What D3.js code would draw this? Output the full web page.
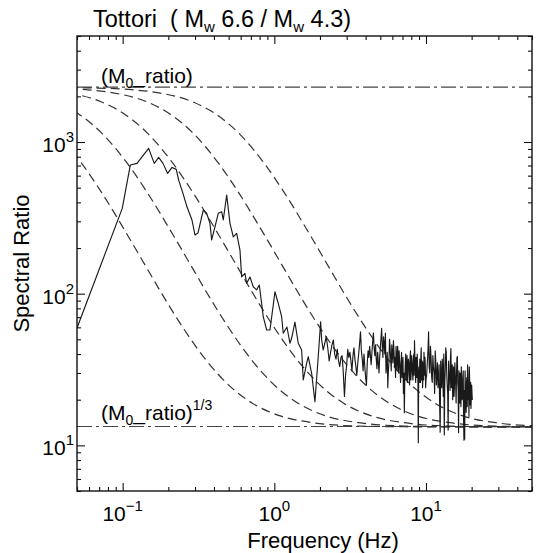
<!DOCTYPE html>
<html>
<head>
<meta charset="utf-8">
<script src="https://cdn.jsdelivr.net/npm/d3@7"></script>
<style>
body { margin: 0; background: #fff; }
svg { display: block; font-family: "Liberation Sans", Arial, Helvetica, sans-serif; }
</style>
</head>
<body>
<div id="chart"></div>
<script>
// reference levels
const moRatio = 2300;
const moRatioCube = 13.3;

const xDomain = [0.05, 50];
const yDomain = [5, 5000];
const xMajor = [0.1, 1, 10];
const xMajorExp = ["\u22121", "0", "1"];
const yMajor = [10, 100, 1000];
const yMajorExp = ["1", "2", "3"];

// model curves (Hz, spectral ratio)
const curveA = [[0.0288,2294],[0.0576,2277],[0.1152,2212],[0.1728,2111],[0.288,1843],[0.4032,1548],[0.576,1157],[0.864,717],[1.152,471],[1.728,242],[2.304,148],[2.88,101],[4.032,58.9],[5.76,35.8],[8.64,23.3],[11.52,18.9],[17.28,15.7],[28.8,14.1],[57.6,13.4]];
const curveB = [[0.0288,2277],[0.0576,2212],[0.0864,2111],[0.144,1843],[0.2016,1548],[0.288,1157],[0.432,717],[0.576,471],[0.864,242],[1.152,148],[1.44,101],[2.016,58.9],[2.88,35.8],[4.32,23.3],[5.76,18.9],[8.64,15.7],[14.4,14.1],[28.8,13.4],[57.6,13.26]];
const curveC = [[0.0288,2212],[0.0432,2111],[0.072,1843],[0.1008,1548],[0.144,1157],[0.216,717],[0.288,471],[0.432,242],[0.576,148],[0.72,101],[1.008,58.9],[1.44,35.8],[2.16,23.3],[2.88,18.9],[4.32,15.7],[7.2,14.1],[14.4,13.4],[28.8,13.26],[72,13.21]];
const curveD = [[0.0216,2111],[0.036,1843],[0.0504,1548],[0.072,1157],[0.108,717],[0.144,471],[0.216,242],[0.288,148],[0.36,101],[0.504,58.9],[0.72,35.8],[1.08,23.3],[1.44,18.9],[2.16,15.7],[3.6,14.1],[7.2,13.4],[14.4,13.26],[36,13.21],[72,13.2]];
const curveE = [[0.0252,1548],[0.036,1157],[0.054,717],[0.072,471],[0.108,242],[0.144,148],[0.18,101],[0.252,58.9],[0.36,35.8],[0.54,23.3],[0.72,18.9],[1.08,15.7],[1.8,14.1],[3.6,13.4],[7.2,13.26],[18,13.21],[54,13.2]];

// observed spectral ratio (Hz, ratio)
const observed = [
  [0.05,59.4],[0.0994,365],[0.1123,705],[0.1243,723],[0.1484,908],[0.1616,723],[0.1728,792],[0.1845,723],
  [0.198,621],[0.2114,680],[0.2257,660],[0.2341,561],[0.2498,459],[0.2655,374],[0.2864,306],[0.2998,244],
  [0.3137,251],[0.34,356],[0.358,339],[0.3764,291],[0.3862,226],[0.4061,276],[0.427,339],[0.4496,347],
  [0.4606,306],[0.4851,447],[0.5101,291],[0.5362,237],[0.5645,250],[0.5935,194],[0.609,129],[0.6403,136],
  [0.657,117],[0.6908,129],[0.7263,111],[0.7647,106],[0.7958,114],[0.8249,86.4],[0.8452,70.5],[0.8901,57.6],
  [0.9359,57.6],[0.9839,84.2],[1.0096,103],[1.0615,86.4],[1.1175,70.5],[1.1452,54.8],[1.2112,60.3],[1.2676,47.1],
  [1.3066,51.8],[1.3675,65],[1.438,47.1],[1.5141,42.5],[1.5513,27],[1.6334,34.7],[1.6735,38.4],[1.7621,29.8],
  [1.8527,19.4],[1.9478,38.4],[2.02,65.3],
  [2.05,50],[2.1,42.5],[2.15,47],[2.2,52],[2.25,44],[2.3,36],[2.35,41],[2.4,46],[2.45,49.5],[2.5,40],
  [2.55,37],[2.6,43],[2.65,36],[2.7,33],[2.75,38],[2.8,39],[2.85,30],[2.9,21],[2.95,29],[3.0,34],
  [3.05,43],[3.1,38],[3.15,41],[3.2,36],[3.25,31],[3.3,39],[3.35,44],[3.4,37],[3.45,33],[3.5,29],
  [3.55,35],[3.6,40],[3.65,47],[3.7,56],[3.75,42],[3.8,37],[3.85,31],[3.9,40],[3.95,33],[4.0,28],
  [4.05,25],[4.1,35],[4.15,42],[4.2,38],[4.25,45],[4.3,39],[4.35,34],[4.4,41],[4.45,48],[4.5,55],
  [4.55,44],[4.6,39],[4.65,46],[4.7,37],[4.75,32],[4.8,41],[4.85,35],[4.9,30],[4.95,38],[5.0,44],
  [5.1,59],[5.2,38],[5.3,47],[5.4,55],[5.5,34],[5.6,24],[5.7,36],[5.8,44],[5.9,31],[6.0,40],
  [6.1,49],[6.2,33],[6.3,28],[6.4,38],[6.5,45],[6.6,30],[6.7,36],[6.8,26],[6.9,41],[7.0,33],
  [7.1,22],[7.2,16.4],[7.3,34],[7.4,27],[7.5,39],[7.6,29],[7.7,35],[7.8,25],[7.9,42],[8.0,31],
  [8.1,36],[8.2,27],[8.3,40],[8.4,49],[8.5,32],[8.6,38],[8.7,28],[8.8,34],[8.9,10.4],[9.0,33],
  [9.1,37],[9.2,26],[9.3,44],[9.4,30],[9.5,24],[9.6,35],[9.7,41],[9.8,29],[9.9,33],[10.0,27],
  [10.2,35],[10.4,56],[10.6,30],[10.8,38],[11.0,26],[11.2,33],[11.4,22],[11.6,36],[11.8,29],[12.0,24],
  [12.2,34],[12.4,12.2],[12.6,28],[12.8,37],[13.0,21],[13.2,11.7],[13.4,32],[13.6,41],[13.8,25],[14.0,12.6],
  [14.2,30],[14.4,23],[14.6,43.5],[14.8,27],[15.0,20],[15.2,33],[15.4,24],[15.6,29],[15.8,19],[16.0,38],
  [16.2,26],[16.4,12.1],[16.6,22],[16.8,30],[17.0,18],[17.2,26],[17.4,21],[17.6,31],[17.8,10.8],[18.0,11],
  [18.2,24],[18.4,16.5],[18.6,28],[18.8,34],[19.0,20],[19.2,15.5],[19.4,27],[19.6,22],[19.8,17.5],[20.0,25],
  [20.2,19.9],
  // in-between samples of the dense 5-20 Hz band
  [5.15,45],[5.25,52],[5.35,40],[5.45,30],[5.55,41],[5.65,31],[5.75,50],[5.85,37],[5.95,46],[6.05,35],
  [6.15,42],[6.25,38],[6.35,45],[6.45,31],[6.55,39],[6.65,42],[6.75,31],[6.85,35],[6.95,28],[7.05,38],
  [7.15,30],[7.25,28],[7.35,40],[7.45,33],[7.55,26],[7.65,37],[7.75,31],[7.85,38],[7.95,27],[8.05,39],
  [8.15,30],[8.25,34],[8.35,29],[8.45,37],[8.55,26],[8.65,33],[8.75,40],[8.85,25],[8.95,30],[9.05,26],
  [9.15,31],[9.25,38],[9.35,27],[9.45,36],[9.55,30],[9.65,27],[9.75,34],[9.85,38],[9.95,24],
  [10.1,29],[10.3,41],[10.5,33],[10.7,45],[10.9,28],[11.1,39],[11.3,30],[11.5,42],[11.7,25],[11.9,35],
  [12.1,27],[12.3,19],[12.5,36],[12.7,24],[12.9,31],[13.1,40],[13.3,26],[13.5,44],[13.7,30],[13.9,22],
  [14.1,36],[14.3,28],[14.5,38],[14.7,24],[14.9,34],[15.1,27],[15.3,21],[15.5,35],[15.7,25],[15.9,30],
  [16.1,38.5],[16.3,23],[16.5,31],[16.7,19],[16.9,27],[17.1,33],[17.3,20],[17.5,28],[17.7,14.5],[17.9,23],
  [18.1,31],[18.3,20],[18.5,26],[18.7,18],[18.9,29],[19.1,24],[19.3,33],[19.5,18.5],[19.7,26],[19.9,21]
];

const W = 537, H = 553;
const margin = {top: 36, right: 5, bottom: 62, left: 77},
	width = W - margin.left - margin.right,
	height = H - margin.top - margin.bottom;

const svg = d3.select("#chart").append("svg")
	.attr("width", W)
	.attr("height", H);

svg.append("rect").attr("width", W).attr("height", H).attr("fill", "#fff");

const g = svg.append("g")
	.attr("transform", "translate(" + margin.left + "," + margin.top + ")");

const x = d3.scaleLog().domain(xDomain).range([0, width]);
const y = d3.scaleLog().domain(yDomain).range([height, 0]);

g.append("clipPath").attr("id", "plot-clip")
	.append("rect").attr("width", width).attr("height", height);

const plot = g.append("g").attr("clip-path", "url(#plot-clip)");

// dash-dot reference levels
[moRatio, moRatioCube].forEach((v) => {
	plot.append("line")
		.attr("x1", 0).attr("x2", width)
		.attr("y1", y(v)).attr("y2", y(v))
		.attr("stroke", "#444")
		.attr("stroke-width", 1.1)
		.attr("stroke-dasharray", "15,4,3,4");
});

const line = d3.line()
	.x((d) => x(d[0]))
	.y((d) => y(d[1]));

const smooth = d3.line()
	.x((d) => x(d[0]))
	.y((d) => y(d[1]))
	.curve(d3.curveMonotoneX);

[curveA, curveB, curveC, curveD, curveE].forEach((c) => {
	plot.append("path")
		.datum(c)
		.attr("d", smooth)
		.attr("fill", "none")
		.attr("stroke", "#333")
		.attr("stroke-width", 1.2)
		.attr("stroke-dasharray", "9,5");
});

const obsSorted = observed.slice().sort((a, b) => a[0] - b[0]);

plot.append("path")
	.datum(obsSorted)
	.attr("d", line)
	.attr("fill", "none")
	.attr("stroke", "#1a1a1a")
	.attr("stroke-width", 1.15)
	.attr("stroke-linejoin", "round");

// ticks on all four sides, pointing inward
const xMinor = x.ticks().filter((v) => xMajor.indexOf(v) < 0);
const yMinor = y.ticks().filter((v) => yMajor.indexOf(v) < 0);

const axes = [
	[() => d3.axisBottom(x), "translate(0," + height + ")", xMajor, xMinor],
	[() => d3.axisTop(x), "translate(0,0)", xMajor, xMinor],
	[() => d3.axisLeft(y), "translate(0,0)", yMajor, yMinor],
	[() => d3.axisRight(y), "translate(" + width + ",0)", yMajor, yMinor]
];
axes.forEach((a) => {
	[[a[2], -8], [a[3], -4]].forEach((t) => {
		const gg = g.append("g")
			.attr("transform", a[1])
			.call(a[0]().tickValues(t[0]).tickSize(t[1]).tickFormat(""));
		gg.select(".domain").remove();
		gg.selectAll("line").attr("stroke", "#111").attr("stroke-width", 1.1);
	});
});

g.append("rect")
	.attr("width", width).attr("height", height)
	.attr("fill", "none").attr("stroke", "#111").attr("stroke-width", 1.4);

// tick labels
xMajor.forEach((v, i) => {
	const t = g.append("text")
		.attr("x", x(v)).attr("y", height + 30)
		.attr("text-anchor", "middle")
		.attr("font-size", 21)
		.text("10");
	t.append("tspan").attr("dy", -10).attr("font-size", 15).text(xMajorExp[i]);
});

yMajor.forEach((v, i) => {
	const t = g.append("text")
		.attr("x", -3).attr("y", y(v) + 10)
		.attr("text-anchor", "end")
		.attr("font-size", 21)
		.text("10");
	t.append("tspan").attr("dy", -10).attr("font-size", 15).text(yMajorExp[i]);
});

// annotations
function moLabel(yy, cube) {
	const t = g.append("text")
		.attr("x", 24).attr("y", yy)
		.attr("font-size", 21)
		.style("white-space", "pre")
		.text("(M");
	t.append("tspan").attr("dy", 5).attr("font-size", 14).text("0");
	t.append("tspan").attr("dy", -5).text("_ratio)");
	if (cube) t.append("tspan").attr("dy", -10).attr("font-size", 14).text("1/3");
}
moLabel(47, false);
moLabel(384, true);

// titles
const title = svg.append("text")
	.attr("x", 93).attr("y", 27)
	.attr("font-size", 23.5)
	.style("white-space", "pre")
	.text("Tottori  ( M");
title.append("tspan").attr("dy", 5).attr("font-size", 15).text("w");
title.append("tspan").attr("dy", -5).text(" 6.6 / M");
title.append("tspan").attr("dy", 5).attr("font-size", 15).text("w");
title.append("tspan").attr("dy", -5).text(" 4.3)");

svg.append("text")
	.attr("x", 323).attr("y", 548)
	.attr("text-anchor", "middle")
	.attr("font-size", 22)
	.text("Frequency (Hz)");

svg.append("text")
	.attr("transform", "translate(29," + (margin.top + height / 2) + ") rotate(-90)")
	.attr("text-anchor", "middle")
	.attr("font-size", 22)
	.text("Spectral Ratio");
</script>
</body>
</html>
